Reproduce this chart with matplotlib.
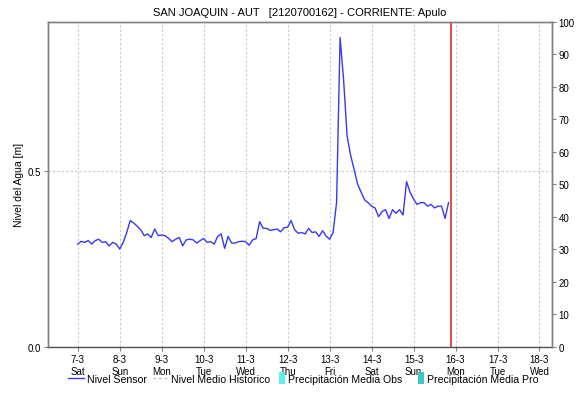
import matplotlib
matplotlib.use("Agg")
import matplotlib.pyplot as plt
from matplotlib.lines import Line2D
from matplotlib.path import Path
import pandas as pd

plt.rcParams["font.family"] = ["Liberation Sans", "DejaVu Sans"]

titulo = "SAN JOAQUIN - AUT   [2120700162] - CORRIENTE: Apulo"

# nivel del sensor [m], una lectura cada 2 horas desde el 7-3 00:00
nivel = [
    0.292, 0.300, 0.297, 0.302, 0.292, 0.302, 0.306, 0.297, 0.299, 0.287, 0.297, 0.292,  # 7-3
    0.278, 0.297, 0.325, 0.359, 0.352, 0.343, 0.333, 0.316, 0.321, 0.311, 0.335, 0.316,  # 8-3
    0.318, 0.316, 0.308, 0.299, 0.306, 0.311, 0.287, 0.304, 0.306, 0.304, 0.295, 0.302,  # 9-3
    0.308, 0.297, 0.299, 0.292, 0.314, 0.321, 0.280, 0.314, 0.295, 0.295, 0.299, 0.300,  # 10-3
    0.299, 0.289, 0.304, 0.308, 0.356, 0.337, 0.337, 0.331, 0.333, 0.335, 0.327, 0.339,  # 11-3
    0.340, 0.359, 0.333, 0.323, 0.325, 0.321, 0.337, 0.325, 0.327, 0.314, 0.330, 0.315,  # 12-3
    0.306, 0.325, 0.411, 0.880, 0.760, 0.600, 0.545, 0.505, 0.463, 0.440, 0.418, 0.410,  # 13-3
    0.400, 0.395, 0.370, 0.385, 0.390, 0.365, 0.390, 0.380, 0.390, 0.375, 0.470, 0.440,  # 14-3
    0.420, 0.405, 0.410, 0.410, 0.400, 0.405, 0.395, 0.400, 0.400, 0.365, 0.410,         # 15-3
]
tiempo = pd.date_range("2020-03-07 00:00", periods=len(nivel), freq="2h")

dias = pd.date_range("2020-03-07", "2020-03-18", freq="D")
dias_labels = ["7-3\nSat", "8-3\nSun", "9-3\nMon", "10-3\nTue", "11-3\nWed", "12-3\nThu",
               "13-3\nFri", "14-3\nSat", "15-3\nSun", "16-3\nMon", "17-3\nTue", "18-3\nWed"]
ahora = pd.Timestamp("2020-03-15 21:40")
x_ini, x_fin = pd.Timestamp("2020-03-06 07:00"), pd.Timestamp("2020-03-18 07:00")

nivel_ticks = [0.0, 0.5]
precip_ticks = list(range(0, 101, 10))

gris = "#808080"
grid_kw = dict(color="#c8c8c8", lw=0.8, ls=(0, (2, 2)))

fig = plt.figure(figsize=(5.77, 4.02), dpi=100)
ax = fig.add_axes([0.0832, 0.135, 0.873, 0.8085])

linea, = ax.plot(tiempo, nivel, color="#3838f5", lw=1, label="Nivel Sensor")
ax.axvline(ahora, color="#e3262c", lw=1.2, zorder=5)

ax.set_xlim(x_ini, x_fin)
ax.set_ylim(0, 0.925)
ax.set_xticks(dias)
ax.set_xticklabels(dias_labels, fontsize=7, linespacing=1.25)
ax.set_yticks(nivel_ticks)
ax.set_yticklabels([f"{v:.1f}" for v in nivel_ticks], fontsize=7)
ax.grid(True, **grid_kw)
ax.tick_params(length=3, color=gris, pad=2)
ax.set_ylabel("Nivel del Agua [m]", fontsize=7.5, labelpad=3)
ax.set_title(titulo, fontsize=8, pad=5)

ax2 = ax.twinx()
ax2.set_ylim(0, 100)
ax2.set_yticks(precip_ticks)
ax2.set_yticklabels([str(v) for v in precip_ticks], fontsize=7)
ax2.tick_params(length=3, color=gris, pad=2)

for a in (ax, ax2):
    for s in a.spines.values():
        s.set_color(gris)
        s.set_linewidth(1)
ax2.spines["bottom"].set_visible(False)
ax.spines["bottom"].set_color("#505050")
ax.spines["bottom"].set_linestyle((0, (1, 1)))

# leyenda: series de linea y barras de precipitacion
barra = Path([(-0.21, -0.5), (0.21, -0.5), (0.21, 0.5), (-0.21, 0.5), (-0.21, -0.5)],
             [Path.MOVETO, Path.LINETO, Path.LINETO, Path.LINETO, Path.CLOSEPOLY])
h_lineas = [
    linea,
    Line2D([], [], color="#c0c0c0", lw=1, ls=(0, (2, 2)), label="Nivel Medio Historico"),
]
h_barras = [
    Line2D([], [], ls="", marker=barra, markersize=9, markeredgewidth=0,
           color="#5ff0f0", label="Precipitación Media Obs"),
    Line2D([], [], ls="", marker=barra, markersize=9, markeredgewidth=0,
           color="#3ec6c6", label="Precipitación Media Pro"),
]
leg_kw = dict(loc="center left", ncol=2, frameon=False, fontsize=7.6,
              borderpad=0, borderaxespad=0, handletextpad=0.25)
fig.legend(handles=h_lineas, bbox_to_anchor=(0.118, 0.055), handlelength=1.5,
           columnspacing=0.6, **leg_kw)
fig.legend(handles=h_barras, bbox_to_anchor=(0.484, 0.055), handlelength=0.6,
           columnspacing=1.5, **leg_kw)

fig.savefig("out.png", dpi=100)
